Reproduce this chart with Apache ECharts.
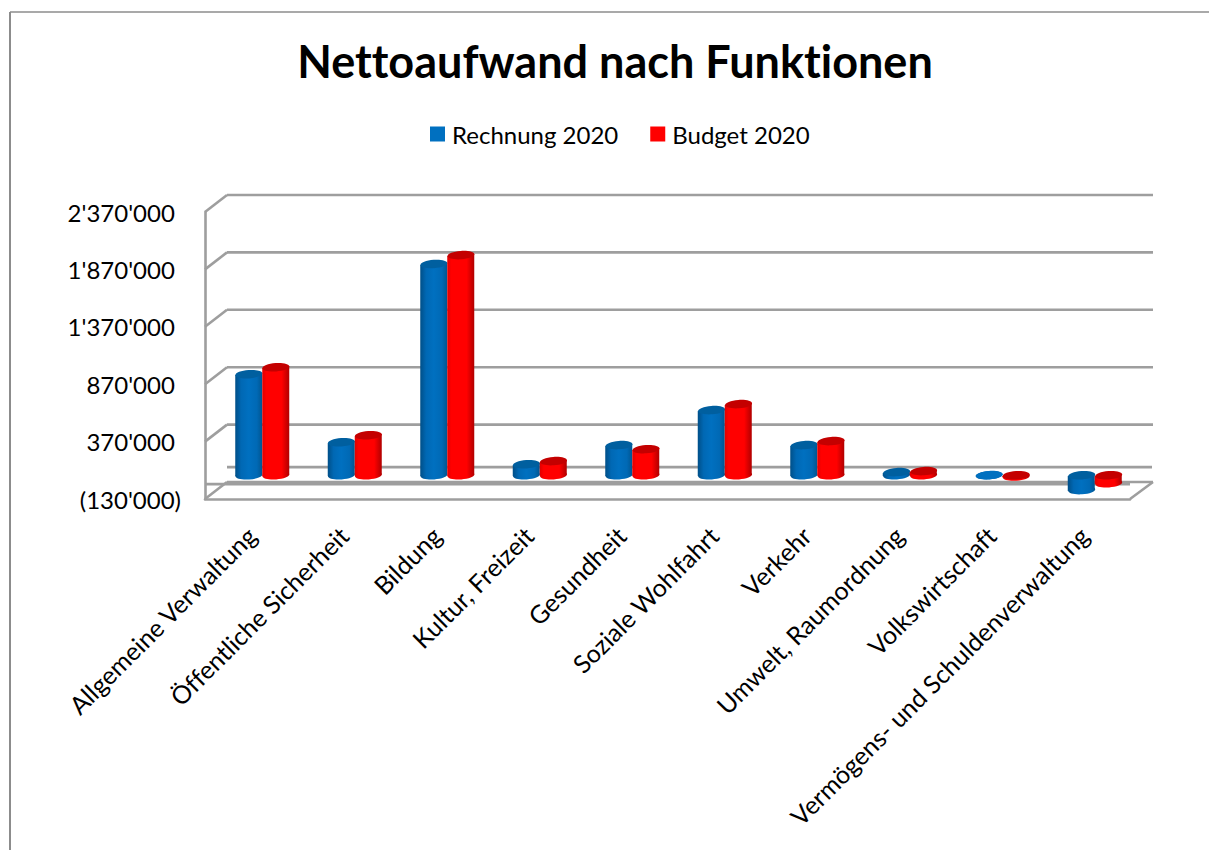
<!DOCTYPE html>
<html><head><meta charset="utf-8">
<style>html,body{margin:0;padding:0;background:#fff}#c{width:1209px;height:850px}#c text{font-variant-ligatures:none;font-feature-settings:"liga" 0,"clig" 0}</style>
<script src="https://cdn.jsdelivr.net/npm/echarts@6/dist/echarts.min.js"></script>
</head><body><div id="c"></div>
<script>
const categories = ["Allgemeine Verwaltung","Öffentliche Sicherheit","Bildung","Kultur, Freizeit","Gesundheit","Soziale Wohlfahrt","Verkehr","Umwelt, Raumordnung","Volkswirtschaft","Vermögens- und Schuldenverwaltung"];
const rechnung2020 = [880000,288000,1839000,96000,262000,567000,262000,27000,1000,-130000];
const budget2020 = [941000,349000,1917000,123000,227000,619000,297000,36000,-11000,-70000];
const tickValues = [-130000,370000,870000,1370000,1870000,2370000];
const zeroLine = [0];

const FONT = 'Lato';
const GRAY = '#9e9e9e';
const DEPTH_X = 22, DEPTH_Y = 17;
const BAR_DX = 11, BAR_DY = -9;
const RX = 13.5, RY = 4.2, TILT = 0.07;

function fmt(v){
  const s = String(Math.abs(v)).replace(/\B(?=(\d{3})+$)/g, "'");
  return v < 0 ? '(' + s + ')' : s + '\u00a0';
}
function ln(x1,y1,x2,y2,w){
  return {type:'line',shape:{x1,y1,x2,y2},style:{stroke:GRAY,lineWidth:w||2.6}};
}
function wallItem(params, api){
  const r = params.coordSys, v = api.value(0);
  const y = api.coord([0,v])[1];
  const L = r.x, R = r.x + r.width;
  const kids = [];
  if (v === 0){
    kids.push(ln(L+DEPTH_X, y-DEPTH_Y, R+DEPTH_X, y-DEPTH_Y));
    kids.push(ln(L, y, R, y));
  } else {
    kids.push(ln(L+DEPTH_X, y-DEPTH_Y, R+DEPTH_X+1, y-DEPTH_Y));
    kids.push(ln(L, y, L+DEPTH_X, y-DEPTH_Y));
    if (v === tickValues[0]) kids.push(ln(R, y, R+DEPTH_X+1, y-DEPTH_Y));
  }
  return {type:'group',children:kids};
}
function grad(stops){
  return {type:'linear',x:0,y:0,x2:1,y2:0,colorStops:stops.map(s=>({offset:s[0],color:s[1]}))};
}
const shade = {
  blue:{body:grad([[0,'#004f88'],[0.22,'#0068b4'],[0.5,'#0070c0'],[0.8,'#0069b5'],[1,'#005590']]),top:'#005f9f'},
  red:{body:grad([[0,'#e00000'],[0.15,'#ff0000'],[0.72,'#ff0000'],[1,'#b00000']]),top:'#c40000'}
};
function cylinder(side, pal){
  return function(params, api){
    const i = api.value(0), v = api.value(1);
    const c0 = api.coord([i,0]), c1 = api.coord([i,v]);
    const cx = c0[0] + BAR_DX + side*RX;
    const y0 = c0[1] + BAR_DY, y1 = c1[1] + BAR_DY;
    const topY = Math.min(y0,y1), botY = Math.max(y0,y1);
    const tilt = Math.sin(TILT)*RX;
    const ell = (cy, fill) => ({type:'ellipse',shape:{cx,cy,rx:RX,ry:RY},
      rotation:TILT,originX:cx,originY:cy,style:{fill}});
    const kids = [ell(botY, pal.body)];
    if (botY - topY > 0.5) {
      kids.push({type:'polygon',shape:{points:[[cx-RX,topY+tilt],[cx+RX,topY-tilt],[cx+RX,botY-tilt],[cx-RX,botY+tilt]]},style:{fill:pal.body}});
    }
    kids.push(ell(topY, (botY-topY>0.5) ? pal.top : pal.body.colorStops[2].color));
    return {type:'group',children:kids};
  };
}
const chart = echarts.init(document.getElementById('c'),null,{renderer:'svg'});
chart.setOption({
  animation:false,
  backgroundColor:'#fff',
  textStyle:{fontFamily:FONT},
  title:{text:'Nettoaufwand nach Funktionen',left:610,textAlign:'center',top:33,
    textStyle:{fontFamily:FONT,fontSize:45,fontWeight:'bold',color:'#000'}},
  legend:{data:['Rechnung 2020','Budget 2020'],left:425,top:117,itemWidth:15,itemHeight:15,itemGap:32,icon:'rect',
    textStyle:{fontFamily:FONT,fontSize:24,color:'#000',padding:[0,0,4,2]}},
  grid:{left:205,right:79,top:212,bottom:351,containLabel:false},
  xAxis:{type:'category',data:categories,
    axisLine:{show:true,onZero:false,lineStyle:{color:GRAY,width:2.6}},
    axisTick:{show:false},
    axisLabel:{interval:0,rotate:45,margin:32,fontFamily:FONT,fontSize:25,color:'#000',hideOverlap:false}},
  yAxis:{type:'value',min:-130000,max:2370000,
    axisLine:{show:true,onZero:false,lineStyle:{color:GRAY,width:2.6}},
    axisTick:{show:false,customValues:tickValues},
    splitLine:{show:false},
    axisLabel:{customValues:tickValues,margin:24,padding:[7,0,0,0],fontFamily:FONT,fontSize:24,color:'#000',formatter:fmt,showMinLabel:true,showMaxLabel:true}},
  graphic:[
    {type:'line',silent:true,shape:{x1:10,y1:12,x2:1209,y2:12},style:{stroke:'#8c8c8c',lineWidth:1.6}},
    {type:'line',silent:true,shape:{x1:10,y1:12,x2:10,y2:850},style:{stroke:'#8c8c8c',lineWidth:2}}
  ],
  series:[
    {type:'custom',name:'wall',silent:true,z:1,clip:false,coordinateSystem:'cartesian2d',
      encode:{y:0},data:tickValues.concat(zeroLine).map(v=>[v]),renderItem:wallItem},
    {type:'custom',name:'Rechnung 2020',z:3,clip:false,itemStyle:{color:'#0070c0'},
      encode:{x:0,y:1},data:rechnung2020.map((v,i)=>[i,v]),renderItem:cylinder(-1,shade.blue)},
    {type:'custom',name:'Budget 2020',z:4,clip:false,itemStyle:{color:'#ff0000'},
      encode:{x:0,y:1},data:budget2020.map((v,i)=>[i,v]),renderItem:cylinder(1,shade.red)}
  ]
});
</script></body></html>
